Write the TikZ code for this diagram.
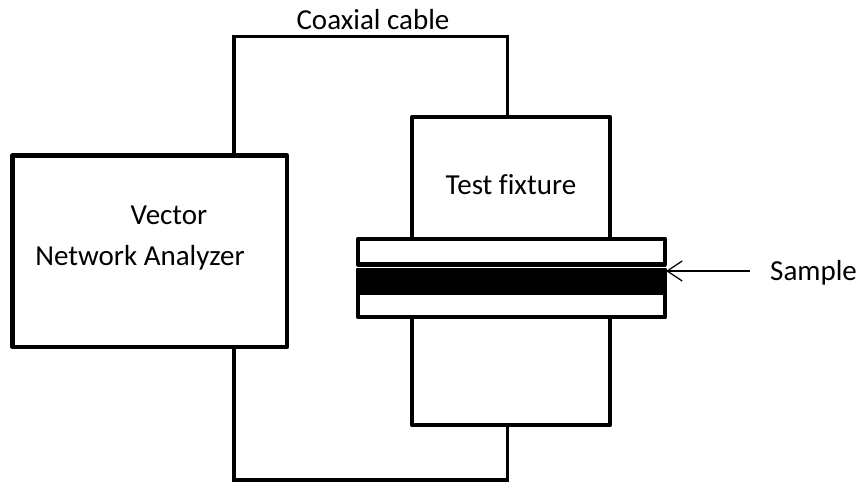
\documentclass[tikz,border=0pt]{standalone}
\usepackage{fontspec}
\setmainfont{Carlito}[Ligatures=CommonOff]
\usetikzlibrary{arrows.meta}
\begin{document}
\begin{tikzpicture}[x=1pt,y=-1pt,
  box/.style={draw=black,line width=4.3pt,line join=round,fill=white,rectangle,inner sep=0pt,outer sep=0pt},
  cable/.style={draw=black,line width=3.3pt},
  lbl/.style={font=\fontsize{29}{34}\selectfont,inner sep=0pt,anchor=center},
  pointer/.style={draw=black,line width=1.3pt,-{Straight Barb[length=15pt,width=20pt,line width=1.3pt]}}]
\useasboundingbox (0,0) rectangle (859,482);
% Vector Network Analyzer
\node[box,minimum width=274.5pt,minimum height=191.5pt] (vna) at (149.75,251.25) {};
\node[lbl] (vtxt1) at (169,215) {Vector};
\node[lbl] (vtxt2) at (140,258) {Network Analyzer};
% test fixture upper and lower blocks
\node[box,minimum width=198pt,minimum height=140pt] (fixup) at (511,187) {};
\node[box,minimum width=198pt,minimum height=130pt] (fixlow) at (511,360) {};
% plates and sample
\node[box,minimum width=307pt,minimum height=25.5pt] (plateup) at (511.5,251.75) {};
\node[box,minimum width=307pt,minimum height=24pt] (platelow) at (511.5,305) {};
\node[box,fill=black,line width=2pt,minimum width=309pt,minimum height=24pt] (sample) at (511.5,280.5) {};
\node[lbl] (fixtxt) at (511,185) {Test fixture};
% cables
\coordinate (ctop) at (0,36.5);
\coordinate (cbot) at (0,480);
\coordinate (cl) at (234,0);
\coordinate (cr) at (507.5,0);
\draw[cable] (vna.north -| cl) |- (ctop -| cr) -- (fixup.north -| cr);
\draw[cable] (vna.south -| cl) |- (cbot -| cr) -- (fixlow.south -| cr);
\node[lbl] (coax) at (373,20) {Coaxial cable};
% sample label and pointer
\node[lbl,anchor=west] (samptxt) at (770,273) {Sample};
\coordinate (ptail) at (750,271);
\draw[pointer] (ptail) -- (ptail -| sample.east);
\end{tikzpicture}
\end{document}
